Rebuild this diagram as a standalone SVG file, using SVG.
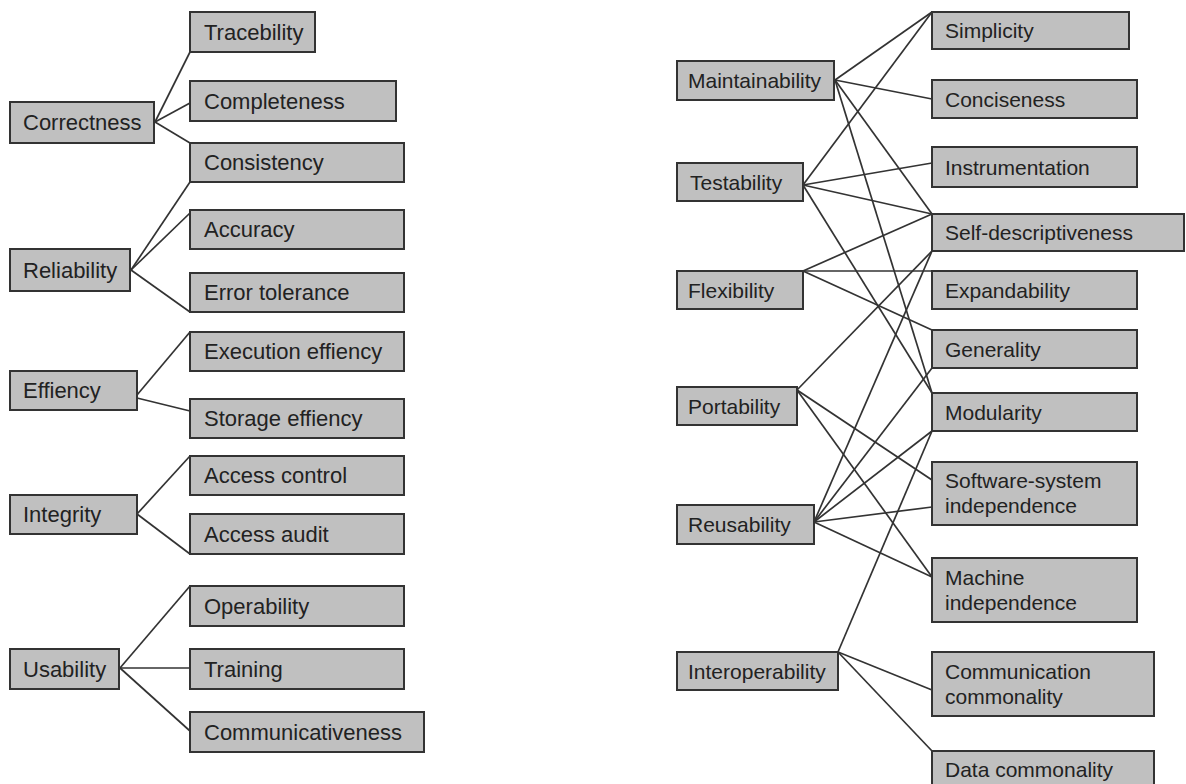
<svg xmlns="http://www.w3.org/2000/svg" width="1186" height="784" viewBox="0 0 1186 784">
  <style>
    .box rect { fill: #c0c0c0; stroke: #333333; stroke-width: 2; }
    .box text { font-family: "Liberation Sans", Arial, sans-serif; font-size: 21px; fill: #222222; }
    #left .box text { font-size: 22px; }
    #connectors line { stroke: #333333; stroke-width: 1.7; }
  </style>
  <rect x="0" y="0" width="1186" height="784" fill="#ffffff"/>

  <g id="connectors">
    <!-- left tree -->
    <line x1="155" y1="122" x2="190" y2="52"/>
    <line x1="155" y1="122" x2="190" y2="103"/>
    <line x1="155" y1="122" x2="190" y2="143"/>
    <line x1="131" y1="270" x2="190" y2="182"/>
    <line x1="131" y1="270" x2="190" y2="213"/>
    <line x1="131" y1="270" x2="190" y2="312"/>
    <line x1="137" y1="395" x2="190" y2="332"/>
    <line x1="137" y1="398" x2="190" y2="411"/>
    <line x1="137" y1="514" x2="190" y2="456"/>
    <line x1="137" y1="514" x2="190" y2="554"/>
    <line x1="120" y1="668" x2="190" y2="586"/>
    <line x1="120" y1="668" x2="190" y2="668"/>
    <line x1="120" y1="668" x2="190" y2="731"/>
    <!-- right network -->
    <line x1="835" y1="80" x2="932" y2="12"/>
    <line x1="835" y1="80" x2="932" y2="99"/>
    <line x1="835" y1="80" x2="932" y2="214"/>
    <line x1="835" y1="80" x2="932" y2="393"/>
    <line x1="803" y1="185" x2="932" y2="12"/>
    <line x1="803" y1="185" x2="932" y2="163"/>
    <line x1="803" y1="185" x2="932" y2="214"/>
    <line x1="803" y1="185" x2="932" y2="393"/>
    <line x1="803" y1="271" x2="932" y2="214"/>
    <line x1="803" y1="271" x2="932" y2="271"/>
    <line x1="803" y1="271" x2="932" y2="330"/>
    <line x1="797" y1="390" x2="932" y2="251"/>
    <line x1="797" y1="390" x2="932" y2="480"/>
    <line x1="797" y1="390" x2="932" y2="577"/>
    <line x1="814" y1="522" x2="932" y2="251"/>
    <line x1="814" y1="522" x2="932" y2="368"/>
    <line x1="814" y1="522" x2="932" y2="431"/>
    <line x1="814" y1="522" x2="932" y2="507"/>
    <line x1="814" y1="522" x2="932" y2="577"/>
    <line x1="838" y1="652" x2="932" y2="431"/>
    <line x1="838" y1="652" x2="932" y2="690"/>
    <line x1="838" y1="652" x2="932" y2="751"/>
  </g>

  <g id="left">
    <g id="correctness" class="box"><rect x="10" y="102" width="144" height="41"/><text x="23" y="130">Correctness</text></g>
    <g id="tracebility" class="box"><rect x="190" y="12" width="125" height="40"/><text x="204" y="39.5">Tracebility</text></g>
    <g id="completeness" class="box"><rect x="190" y="81" width="206" height="40"/><text x="204" y="108.5">Completeness</text></g>
    <g id="consistency" class="box"><rect x="190" y="143" width="214" height="39"/><text x="204" y="170">Consistency</text></g>
    <g id="reliability" class="box"><rect x="10" y="249" width="120" height="42"/><text x="23" y="277.5">Reliability</text></g>
    <g id="accuracy" class="box"><rect x="190" y="210" width="214" height="39"/><text x="204" y="237">Accuracy</text></g>
    <g id="error-tolerance" class="box"><rect x="190" y="273" width="214" height="39"/><text x="204" y="300">Error tolerance</text></g>
    <g id="effiency" class="box"><rect x="10" y="371" width="127" height="39"/><text x="23" y="398">Effiency</text></g>
    <g id="execution-effiency" class="box"><rect x="190" y="332" width="214" height="39"/><text x="204" y="359">Execution effiency</text></g>
    <g id="storage-effiency" class="box"><rect x="190" y="399" width="214" height="39"/><text x="204" y="426">Storage effiency</text></g>
    <g id="integrity" class="box"><rect x="10" y="495" width="127" height="39"/><text x="23" y="522">Integrity</text></g>
    <g id="access-control" class="box"><rect x="190" y="456" width="214" height="39"/><text x="204" y="483">Access control</text></g>
    <g id="access-audit" class="box"><rect x="190" y="514" width="214" height="40"/><text x="204" y="541.5">Access audit</text></g>
    <g id="usability" class="box"><rect x="10" y="649" width="109" height="40"/><text x="23" y="676.5">Usability</text></g>
    <g id="operability" class="box"><rect x="190" y="586" width="214" height="40"/><text x="204" y="613.5">Operability</text></g>
    <g id="training" class="box"><rect x="190" y="649" width="214" height="40"/><text x="204" y="676.5">Training</text></g>
    <g id="communicativeness" class="box"><rect x="190" y="712" width="234" height="40"/><text x="204" y="739.5">Communicativeness</text></g>
  </g>

  <g id="right">
    <!-- factors -->
    <g id="maintainability" class="box"><rect x="677" y="61" width="157" height="39"/><text x="688" y="88">Maintainability</text></g>
    <g id="testability" class="box"><rect x="677" y="163" width="126" height="38"/><text x="690" y="189.5">Testability</text></g>
    <g id="flexibility" class="box"><rect x="677" y="271" width="126" height="38"/><text x="688" y="297.5">Flexibility</text></g>
    <g id="portability" class="box"><rect x="677" y="387" width="120" height="38"/><text x="688" y="413.5">Portability</text></g>
    <g id="reusability" class="box"><rect x="677" y="505" width="137" height="39"/><text x="688" y="532">Reusability</text></g>
    <g id="interoperability" class="box"><rect x="677" y="652" width="161" height="38"/><text x="688" y="678.5">Interoperability</text></g>
    <!-- criteria -->
    <g id="simplicity" class="box"><rect x="932" y="12" width="197" height="37"/><text x="945" y="38">Simplicity</text></g>
    <g id="conciseness" class="box"><rect x="932" y="80" width="205" height="38"/><text x="945" y="106.5">Conciseness</text></g>
    <g id="instrumentation" class="box"><rect x="932" y="147" width="205" height="40"/><text x="945" y="174.5">Instrumentation</text></g>
    <g id="self-descriptiveness" class="box"><rect x="932" y="214" width="252" height="37"/><text x="945" y="240">Self-descriptiveness</text></g>
    <g id="expandability" class="box"><rect x="932" y="271" width="205" height="38"/><text x="945" y="297.5">Expandability</text></g>
    <g id="generality" class="box"><rect x="932" y="330" width="205" height="38"/><text x="945" y="356.5">Generality</text></g>
    <g id="modularity" class="box"><rect x="932" y="393" width="205" height="38"/><text x="945" y="419.5">Modularity</text></g>
    <g id="software-system-independence" class="box"><rect x="932" y="462" width="205" height="63"/><text x="945" y="488">Software-system</text><text x="945" y="513">independence</text></g>
    <g id="machine-independence" class="box"><rect x="932" y="558" width="205" height="64"/><text x="945" y="585">Machine</text><text x="945" y="610">independence</text></g>
    <g id="communication-commonality" class="box"><rect x="932" y="652" width="222" height="64"/><text x="945" y="679">Communication</text><text x="945" y="704">commonality</text></g>
    <g id="data-commonality" class="box"><rect x="932" y="751" width="222" height="40"/><text x="945" y="777">Data commonality</text></g>
  </g>
</svg>
